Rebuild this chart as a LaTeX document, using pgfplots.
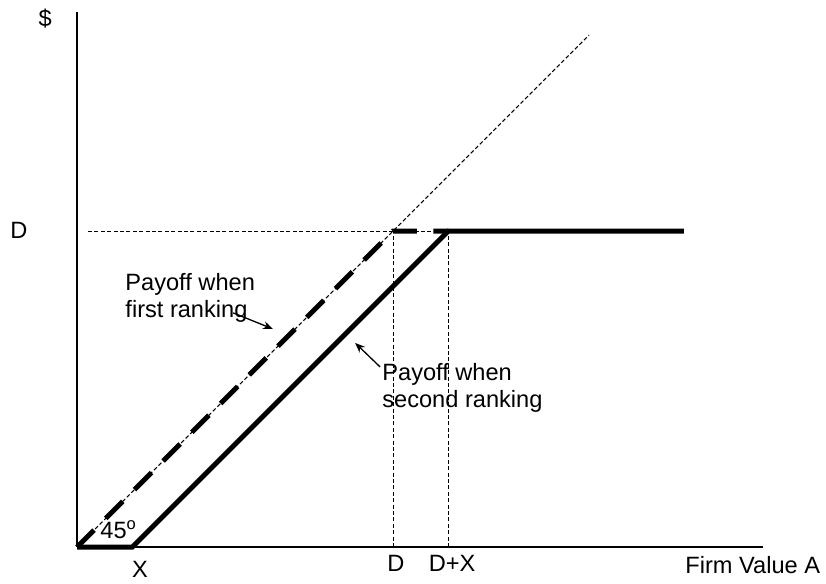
\documentclass[border=0pt]{standalone}
\usepackage{fontspec}
\setmainfont{Liberation Sans}
\usepackage{pgfplots}
\pgfplotsset{compat=1.18}
\usetikzlibrary{arrows.meta}

\begin{document}
\begin{tikzpicture}
\fontsize{11.8}{14}\selectfont
\begin{axis}[
    x=158pt, y=158pt,
    xmin=0, xmax=2.171, ymin=0, ymax=1.693,
    axis lines*=left,
    axis line style={line width=0.65pt},
    xtick=\empty, ytick=\empty,
    clip=false,
]
% 45 degree reference line
\addplot[black, line width=0.5pt, dash pattern=on 2pt off 1.2pt] coordinates {(0,0) (1.62,1.62)};
% guides at D and D+X
\addplot[black, line width=0.5pt, dash pattern=on 2pt off 1.2pt] coordinates {(0.035,1) (1.175,1)};
\addplot[black, line width=0.5pt, dash pattern=on 2pt off 1.2pt] coordinates {(1,0) (1,1)};
\addplot[black, line width=0.5pt, dash pattern=on 2pt off 1.2pt] coordinates {(1.175,0) (1.175,1)};
% payoff, first ranking
\addplot[black, line width=2.5pt, dash pattern=on 12pt off 8.3pt] coordinates {(0,0) (1,1) (1.175,1)};
% payoff, second ranking
\addplot[black, line width=2.5pt, line join=miter] coordinates {(0,0) (0.175,0) (1.175,1) (1.92,1)};

\node[anchor=base] at (axis cs:-0.101,1.646) {\$};
\node[anchor=base] at (axis cs:-0.184,0.975) {D};
\node[anchor=base] at (axis cs:0.199,-0.095) {X};
\node[anchor=base] at (axis cs:1.009,-0.076) {D};
\node[anchor=base] at (axis cs:1.187,-0.076) {D+X};
\node[anchor=base west, inner sep=0pt] at (axis cs:1.924,-0.085) {Firm Value A};
\node[anchor=base west, inner sep=0pt] at (axis cs:0.073,0.028) {45\textsuperscript{o}};

\node[anchor=base west, inner sep=0pt] at (axis cs:0.152,0.813) {Payoff when};
\node[anchor=base west, inner sep=0pt] at (axis cs:0.152,0.725) {first ranking};
\node[anchor=base west, inner sep=0pt] at (axis cs:0.965,0.528) {Payoff when};
\node[anchor=base west, inner sep=0pt] at (axis cs:0.965,0.440) {second ranking};

\draw[line width=0.65pt, -{Stealth[length=5pt,width=4pt]}] (axis cs:0.494,0.741) -- (axis cs:0.620,0.690);
\draw[line width=0.65pt, -{Stealth[length=5pt,width=4pt]}] (axis cs:0.959,0.570) -- (axis cs:0.880,0.646);

\coordinate (bl) at (axis cs:-0.2437,-0.1139);
\coordinate (tr) at (axis cs:2.370,1.731);
\end{axis}
\pgfresetboundingbox
\useasboundingbox (bl) rectangle (tr);
\end{tikzpicture}
\end{document}
